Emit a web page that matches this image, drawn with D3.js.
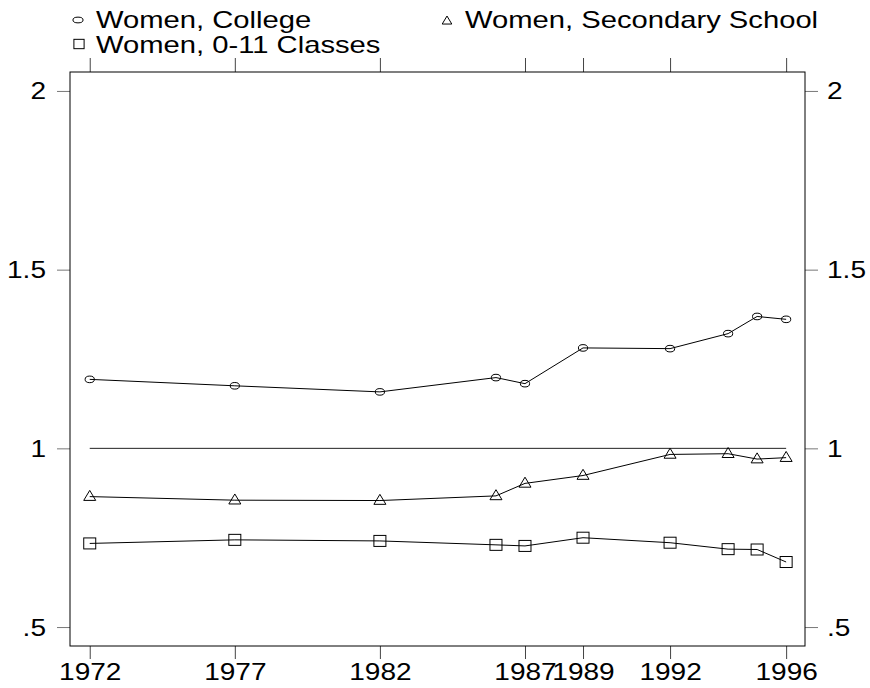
<!DOCTYPE html>
<html>
<head>
<meta charset="utf-8">
<script src="https://cdn.jsdelivr.net/npm/d3@7"></script>
<style>
  body { margin: 0; background: #fff; }
  text { font-family: "Liberation Sans", Arial, sans-serif; fill: #000; }
</style>
</head>
<body>
<div id="chart"></div>
<script>
var years = [1972, 1977, 1982, 1986, 1987, 1989, 1992, 1994, 1995, 1996];
var college = [1.193, 1.175, 1.158, 1.198, 1.181, 1.281, 1.279, 1.321, 1.369, 1.361];
var secondary = [0.865, 0.855, 0.854, 0.867, 0.902, 0.924, 0.983, 0.985, 0.970, 0.974];
var basic = [0.734, 0.744, 0.741, 0.730, 0.727, 0.750, 0.736, 0.718, 0.717, 0.682];
var xTicks = [1972, 1977, 1982, 1987, 1989, 1992, 1996];
var yTicks = [0.5, 1, 1.5, 2];
var refLine = [1, 1];

var width = 870, height = 688;
var plotLeft = 70, plotRight = 805, plotTop = 72, plotBottom = 646;
var fontSize = 23, stretch = 1.22;

var svg = d3.select("#chart").append("svg")
    .attr("width", width)
    .attr("height", height);

var x = d3.scaleLinear().domain([1971.32, 1996.65]).range([plotLeft, plotRight]);
var y = d3.scaleLinear().domain([0.447, 2.053]).range([plotBottom, plotTop]);

var yFormat = function(d) { return d === 0.5 ? ".5" : String(d); };

// axes - ticks outside the frame on all four sides
var gBottom = svg.append("g").attr("transform", "translate(0," + plotBottom + ")")
    .call(d3.axisBottom(x).tickValues(xTicks).tickSize(13).tickFormat(d3.format("d")));
var gTop = svg.append("g").attr("transform", "translate(0," + plotTop + ")")
    .call(d3.axisTop(x).tickValues(xTicks).tickSize(14).tickFormat(""));
var gLeft = svg.append("g").attr("transform", "translate(" + plotLeft + ",0)")
    .call(d3.axisLeft(y).tickValues(yTicks).tickSize(13).tickFormat(yFormat));
var gRight = svg.append("g").attr("transform", "translate(" + plotRight + ",0)")
    .call(d3.axisRight(y).tickValues(yTicks).tickSize(13).tickFormat(yFormat));

[gBottom, gTop, gLeft, gRight].forEach(function(g) {
  g.select(".domain").remove();
  g.selectAll("text").attr("font-size", fontSize).attr("fill", "#000");
  g.attr("font-family", null);
});
gBottom.selectAll(".tick line").attr("stroke", "#444");
gTop.selectAll(".tick line").attr("stroke", "#444");
gLeft.selectAll(".tick line").attr("stroke", "#777");
gRight.selectAll(".tick line").attr("stroke", "#777");

gBottom.selectAll("text")
    .attr("y", null).attr("dy", null)
    .attr("transform", "translate(0,34) scale(" + stretch + ",1)");
gLeft.selectAll("text")
    .attr("x", null).attr("dy", null)
    .attr("transform", "translate(-24,8) scale(" + stretch + ",1)");
gRight.selectAll("text")
    .attr("x", null).attr("dy", null)
    .attr("transform", "translate(22,8) scale(" + stretch + ",1)");

// frame
svg.append("rect")
    .attr("x", plotLeft).attr("y", plotTop)
    .attr("width", plotRight - plotLeft).attr("height", plotBottom - plotTop)
    .attr("fill", "none").attr("stroke", "#000").attr("stroke-width", 1);

// reference line at 1
svg.append("line")
    .attr("x1", x(years[0])).attr("x2", x(years[years.length - 1]))
    .attr("y1", y(refLine[0])).attr("y2", y(refLine[1]))
    .attr("stroke", "#222").attr("stroke-width", 1);

var line = d3.line()
    .x(function(d) { return x(d.year); })
    .y(function(d) { return y(d.value); });

function toPoints(vals) {
  return years.map(function(yr, i) { return { year: yr, value: vals[i] }; });
}

var series = [
  { name: "Women, College", values: toPoints(college), shape: "circle" },
  { name: "Women, Secondary School", values: toPoints(secondary), shape: "triangle" },
  { name: "Women, 0-11 Classes", values: toPoints(basic), shape: "square" }
];

function drawMarker(g, shape, cx, cy, s, flat) {
  if (shape === "circle") {
    g.append("ellipse").attr("cx", cx).attr("cy", cy)
      .attr("rx", 4.6 * s).attr("ry", (flat ? 2.6 : 3.3) * s)
      .attr("fill", "none").attr("stroke", "#000");
  } else if (shape === "triangle") {
    var h = 10 * s, w = 12 * s;
    g.append("path")
      .attr("d", "M" + cx + "," + (cy - h * 0.62) +
                 "L" + (cx + w / 2) + "," + (cy + h * 0.38) +
                 "L" + (cx - w / 2) + "," + (cy + h * 0.38) + "Z")
      .attr("fill", "none").attr("stroke", "#000");
  } else {
    g.append("rect").attr("x", cx - 6 * s).attr("y", cy - 5.5 * s)
      .attr("width", 12 * s).attr("height", 11 * s)
      .attr("fill", "none").attr("stroke", "#000");
  }
}

series.forEach(function(s) {
  var g = svg.append("g");
  g.append("path").datum(s.values)
    .attr("d", line)
    .attr("fill", "none").attr("stroke", "#000").attr("stroke-width", 1);
  s.values.forEach(function(d) {
    drawMarker(g, s.shape, x(d.year), y(d.value), 1, false);
  });
});

// legend
var legendPos = [
  { mx: 78, my: 20, tx: 96, ty: 28 },
  { mx: 447, my: 21, tx: 465, ty: 28 },
  { mx: 79, my: 44, tx: 96, ty: 53 }
];
var legendScale = [1.1, 0.8, 0.85];
series.forEach(function(s, i) {
  var p = legendPos[i];
  var g = svg.append("g");
  drawMarker(g, s.shape, p.mx, p.my, legendScale[i], true);
  g.append("text")
    .attr("font-size", fontSize)
    .attr("transform", "translate(" + p.tx + "," + p.ty + ") scale(1.27,1)")
    .text(s.name);
});
</script>
</body>
</html>
